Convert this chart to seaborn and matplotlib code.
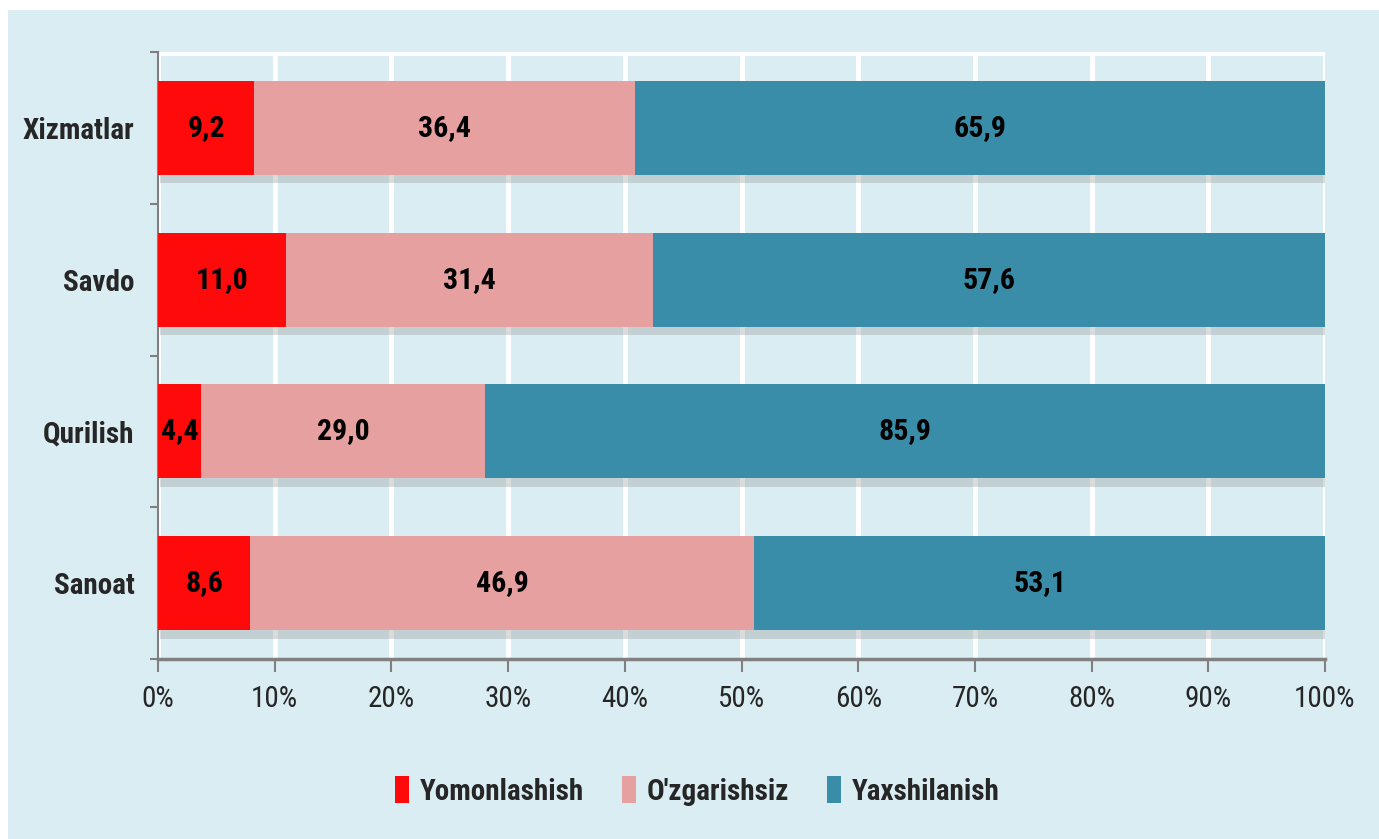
import matplotlib
matplotlib.use("Agg")
import matplotlib.pyplot as plt
import matplotlib.patheffects as pe
import seaborn as sns
import pandas as pd
import numpy as np
from matplotlib.patches import Rectangle, Patch
from matplotlib.ticker import FixedLocator

categories = ["Xizmatlar", "Savdo", "Qurilish", "Sanoat"]
yomon = [9.2, 11.0, 4.4, 8.6]
ozgar = [36.4, 31.4, 29.0, 46.9]
yaxshi = [65.9, 57.6, 85.9, 53.1]
series_names = ["Yomonlashish", "O'zgarishsiz", "Yaxshilanish"]
colors = ["#FF0A0A", "#E6A09F", "#3A8DA8"]
xticks = [0, 10, 20, 30, 40, 50, 60, 70, 80, 90, 100]

sns.set_theme(style="white")
plt.rcParams['font.family'] = ['Roboto Condensed', 'PT Sans Narrow', 'Liberation Sans', 'DejaVu Sans']

vals = np.array([yomon, ozgar, yaxshi])
tot = vals.sum(axis=0)
pct = vals / tot * 100
cum = np.cumsum(pct, axis=0)

fig = plt.figure(figsize=(13.79, 8.39), dpi=100)
fig.patch.set_facecolor("white")
bgcol = "#DAEDF3"
fig.patches.append(Rectangle((8/1379, 0), 1 - 8/1379, 1 - 10/839, transform=fig.transFigure,
                             facecolor=bgcol, edgecolor="none", zorder=-10))
ax = fig.add_axes([158/1379, 1 - 659/839, (1325-158)/1379, (659-52)/839])
ax.set_facecolor(bgcol)

for i in [2, 1, 0]:
    df = pd.DataFrame({"cat": categories, "v": cum[i]})
    sns.barplot(data=df, x="v", y="cat", order=categories, orient="h", color=colors[i],
                width=0.62, saturation=1, ax=ax, zorder=3, edgecolor="none")

# soft drop shadow under the full-length bars
for p in ax.patches[:len(categories)]:
    p.set_path_effects([pe.SimplePatchShadow(offset=(1.5, -6), shadow_rgbFace="#9a9a9a", alpha=0.35),
                        pe.Normal()])

for j, cat in enumerate(categories):
    starts = [0, cum[0][j], cum[1][j]]
    for i in range(3):
        c = starts[i] + pct[i][j] / 2
        ax.text(c, j, f"{vals[i][j]:.1f}".replace(".", ","), ha="center", va="center",
                fontsize=21.5, fontweight="bold", color="black", zorder=5)

ax.set_xlim(0, 100)
ax.set_ylim(3.5, -0.5)
ax.set_xticks(xticks)
ax.set_xticklabels([f"{t}%" for t in xticks], fontsize=21)
ax.set_yticks(range(len(categories)))
ax.set_yticklabels(categories, fontsize=21, fontweight="bold")
ax.yaxis.set_minor_locator(FixedLocator([-0.5, 0.5, 1.5, 2.5, 3.5]))
ax.tick_params(axis="y", which="major", length=0, pad=17)
ax.tick_params(axis="y", which="minor", length=6, width=1.5, color="#808080", direction="out", left=True)
ax.tick_params(axis="x", which="major", length=9, width=1.5, color="#808080", direction="out", bottom=True, pad=10)
ax.set_xlabel("")
ax.set_ylabel("")
ax.grid(axis="x", color="white", linewidth=3.5, zorder=0)
ax.set_axisbelow(True)
for s in ["top", "right"]:
    ax.spines[s].set_visible(False)
ax.spines["left"].set_color("#808080")
ax.spines["bottom"].set_color("#808080")
ax.spines["left"].set_linewidth(1.5)
ax.spines["bottom"].set_linewidth(2.5)
ax.axhline(-0.5, color="white", linewidth=5, zorder=1)

handles = [Patch(facecolor=c, edgecolor="none") for c in colors]
leg = fig.legend(handles, series_names, loc="center", bbox_to_anchor=(697/1379, 1 - 791/839), ncol=3,
                 frameon=False, fontsize=21, handlelength=0.5, handleheight=1.0, handletextpad=0.35,
                 columnspacing=1.3)
for t in leg.get_texts():
    t.set_fontweight("bold")

fig.savefig("out.png", dpi=100, facecolor=fig.get_facecolor())
